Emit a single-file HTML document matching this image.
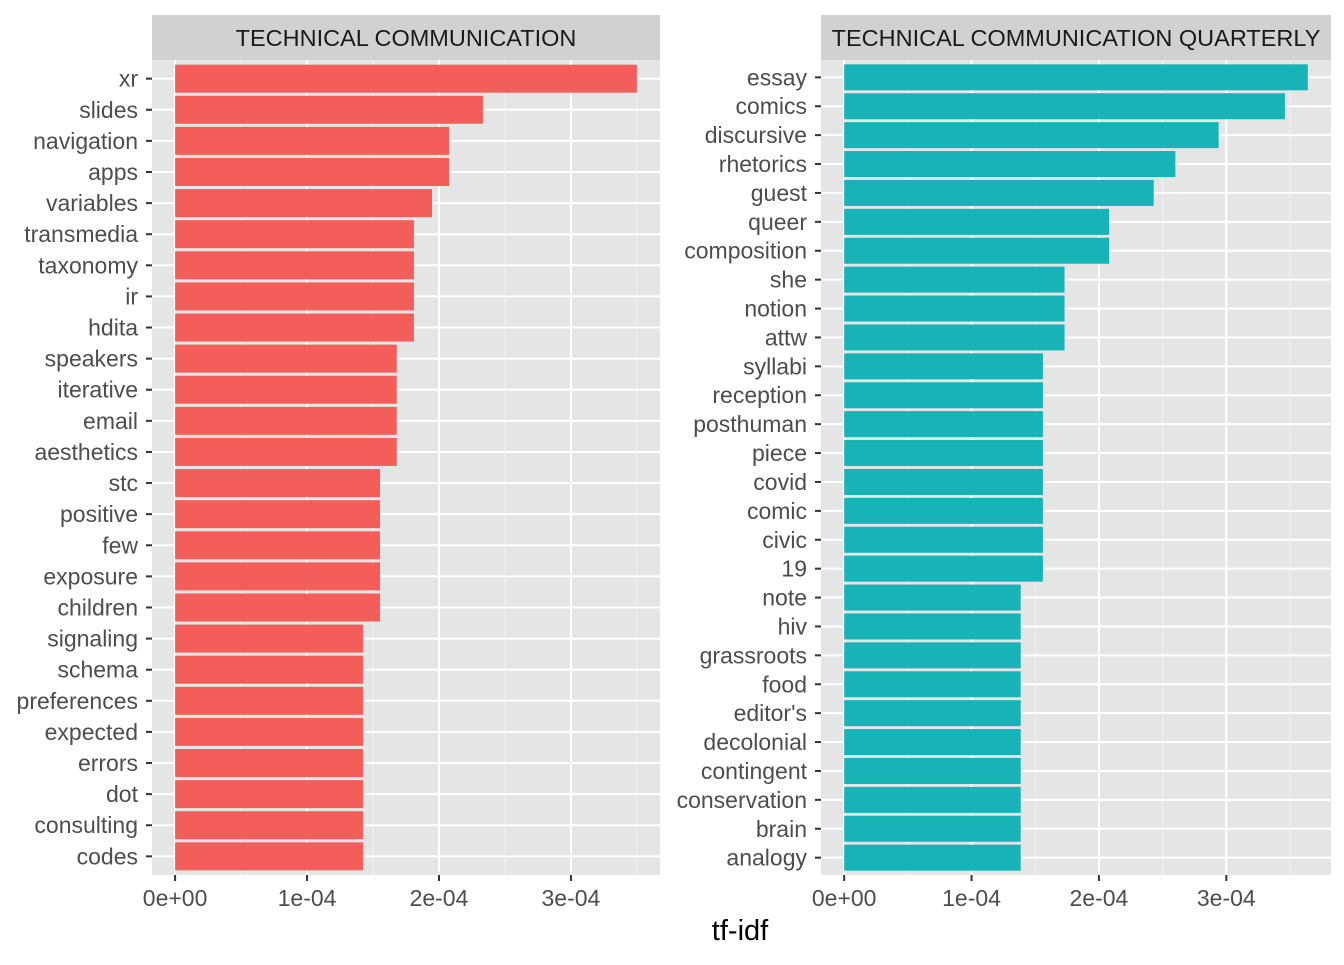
<!DOCTYPE html>
<html><head><meta charset="utf-8"><style>
body{margin:0;background:#fff;font-family:"Liberation Sans",Arial,sans-serif}
svg text{font-family:"Liberation Sans",Arial,sans-serif}
</style></head><body>
<svg id="chart" width="1344" height="960" xmlns="http://www.w3.org/2000/svg"></svg>
<script>
const leftTitle = "TECHNICAL COMMUNICATION";
const leftTerms = ["xr","slides","navigation","apps","variables","transmedia","taxonomy","ir","hdita","speakers","iterative","email","aesthetics","stc","positive","few","exposure","children","signaling","schema","preferences","expected","errors","dot","consulting","codes"];
const leftValues = [3.5,2.333,2.076,2.076,1.947,1.81,1.81,1.81,1.81,1.68,1.68,1.68,1.68,1.553,1.553,1.553,1.553,1.553,1.424,1.424,1.424,1.424,1.424,1.424,1.424,1.424];
const rightTitle = "TECHNICAL COMMUNICATION QUARTERLY";
const rightTerms = ["essay","comics","discursive","rhetorics","guest","queer","composition","she","notion","attw","syllabi","reception","posthuman","piece","covid","comic","civic","19","note","hiv","grassroots","food","editor's","decolonial","contingent","conservation","brain","analogy"];
const rightValues = [3.64,3.46,2.94,2.60,2.43,2.08,2.08,1.73,1.73,1.73,1.56,1.56,1.56,1.56,1.56,1.56,1.56,1.56,1.386,1.386,1.386,1.386,1.386,1.386,1.386,1.386,1.386,1.386];
const tickValues = [0,1,2,3];
const tickLabels = ["0e+00","1e-04","2e-04","3e-04"];

const svg = document.getElementById('chart');
const NS = "http://www.w3.org/2000/svg";
function mk(tag, attrs, parent){const e=document.createElementNS(NS,tag);for(const k in attrs)e.setAttribute(k,attrs[k]);(parent||svg).appendChild(e);return e;}

function panel(key, title, terms, values, x0, x1, color){
  const y0=60, y1=875;
  const g = mk('g',{});
  
  
  mk('rect',{x:x0,y:y0,width:x1-x0,height:y1-y0,fill:'#e5e5e5'},g);
  const strip = mk('rect',{x:x0,y:15,width:x1-x0,height:45,fill:'#d1d1d1'},g);
  
  
  const st = mk('text',{x:(x0+x1)/2,y:46,'text-anchor':'middle','font-size':'23.5',fill:'#1a1a1a'},g);
  st.textContent = title;
  
  
  const max = Math.max(...values);
  const lo = -0.05*max, hi = 1.05*max;
  const sx = v => x0 + (v-lo)/(hi-lo)*(x1-x0);
  const n = terms.length;
  const step = (y1-y0)/(n+0.2);
  const sy = i => y0 + step*(i+0.6);
  for(let t=0.5;t<hi;t+=1){ if(t>lo) mk('line',{x1:sx(t),x2:sx(t),y1:y0,y2:y1,stroke:'#f2f2f2','stroke-width':1},g);}
  tickValues.forEach(t=>{ if(t<=hi) mk('line',{x1:sx(t),x2:sx(t),y1:y0,y2:y1,stroke:'#fff','stroke-width':2},g);});
  terms.forEach((_,i)=>mk('line',{x1:x0,x2:x1,y1:sy(i),y2:sy(i),stroke:'#fff','stroke-width':2},g));
  terms.forEach((term,i)=>{
    const r = mk('rect',{x:sx(0),y:sy(i)-step*0.45,width:sx(values[i])-sx(0),height:step*0.9,fill:color},g);
    
    
    mk('line',{x1:x0-6,x2:x0,y1:sy(i),y2:sy(i),stroke:'#333','stroke-width':2},g);
    const lt = mk('text',{x:x0-14,y:sy(i)+8,'text-anchor':'end','font-size':'23',fill:'#4d4d4d'},g);
    lt.textContent = term;
    
    
  });
  tickValues.forEach((t,i)=>{
    if(t>hi) return;
    mk('line',{x1:sx(t),x2:sx(t),y1:y1,y2:y1+6,stroke:'#333','stroke-width':2},g);
    const tt = mk('text',{x:sx(t),y:906,'text-anchor':'middle','font-size':'23',fill:'#4d4d4d'},g);
    tt.textContent = tickLabels[i];
    
    
  });
}
panel('left', leftTitle, leftTerms, leftValues, 152, 660, '#f35e5a');
panel('right', rightTitle, rightTerms, rightValues, 821, 1331, '#17b3b7');
const xt = mk('text',{x:740,y:940,'text-anchor':'middle','font-size':'29',fill:'#000'});
xt.textContent='tf-idf';


</script>
</body></html>
